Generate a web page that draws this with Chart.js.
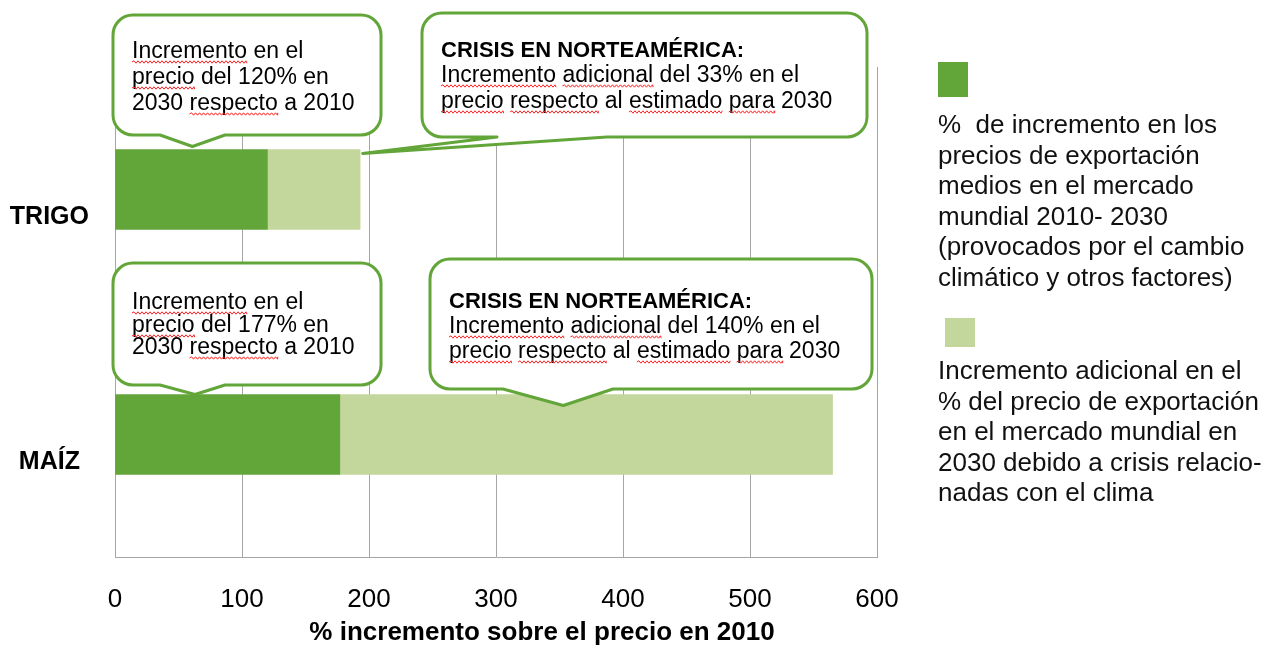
<!DOCTYPE html>
<html lang="es">
<head>
<meta charset="UTF-8">
<title>Incremento de precios 2010-2030</title>
<script src="https://cdn.jsdelivr.net/npm/chart.js"></script>
<style>
  html, body { margin: 0; padding: 0; background: #fff; }
</style>
</head>
<body>
<canvas id="chart" width="1271" height="648"></canvas>
<script>
// ---- data ----
const categories = ['TRIGO', 'MAÍZ'];
const baseIncrease = [120, 177];     // % increase 2010-2030
const crisisIncrease = [73, 388];    // extra % from the climate crisis
const xTicks = [0, 100, 200, 300, 400, 500, 600];
const axisTitle = '% incremento sobre el precio en 2010';

const seriesLines = [
  ['%  de incremento en los', 'precios de exportación', 'medios en el mercado',
   'mundial 2010- 2030', '(provocados por el cambio', 'climático y otros factores)'],
  ['Incremento adicional en el', '% del precio de exportación', 'en el mercado mundial en',
   '2030 debido a crisis relacio-', 'nadas con el clima']
];

// callout texts, one per bubble (title, lines, category index, value the pointer aims at)
const calloutTitles = ['', 'CRISIS EN NORTEAMÉRICA:', '', 'CRISIS EN NORTEAMÉRICA:'];
const calloutLines = [
  ['Incremento en el', 'precio del 120% en', '2030 respecto a 2010'],
  ['Incremento adicional del 33% en el', 'precio respecto al estimado para 2030'],
  ['Incremento en el', 'precio del 177% en', '2030 respecto a 2010'],
  ['Incremento adicional del 140% en el', 'precio respecto al estimado para 2030']
];
const calloutCategory = [0, 0, 1, 1];
const calloutTarget = [61, 195, 63, 353];
// words Word flagged with the red wavy line
const flaggedWords = ['Incremento', 'precio', 'respecto', 'adicional', 'estimado', 'para'];

// ---- styles / placement ----
const DARK = '#62a539';
const LIGHT = '#c3d69b';
const GRID = '#a6a6a6';
const FONT = '"Liberation Sans", Arial, sans-serif';

const calloutBoxes = [
  { x: 113, y: 15,  w: 268, h: 120, base: [160, 225], dy: -3, tx: 132, lines: [58, 84, 110] },
  { x: 422, y: 13,  w: 445, h: 124, base: [497, 607], dy: 4,  tx: 441, lines: [57, 82, 108] },
  { x: 113, y: 263, w: 268, h: 122, base: [160, 225], dy: 0,  tx: 132, lines: [309, 332, 354] },
  { x: 430, y: 259, w: 442, h: 130, base: [503, 613], dy: 11, tx: 449, lines: [308, 333, 358] }
];
const legendBoxes = [
  { sx: 938, sy: 62,  sw: 30, sh: 35, tx: 938, ty: 133, gap: 30.5 },
  { sx: 945, sy: 318, sw: 30, sh: 29, tx: 938, ty: 379, gap: 30.6 }
];

function bubblePath(ctx, b, tip) {
  const r = 20, x0 = b.x, y0 = b.y, x1 = b.x + b.w, y1 = b.y + b.h;
  ctx.beginPath();
  ctx.moveTo(x0 + r, y0);
  ctx.lineTo(x1 - r, y0);
  ctx.arcTo(x1, y0, x1, y0 + r, r);
  ctx.lineTo(x1, y1 - r);
  ctx.arcTo(x1, y1, x1 - r, y1, r);
  ctx.lineTo(b.base[1], y1);
  ctx.lineTo(tip.x, tip.y);
  ctx.lineTo(b.base[0], y1);
  ctx.lineTo(x0 + r, y1);
  ctx.arcTo(x0, y1, x0, y1 - r, r);
  ctx.lineTo(x0, y0 + r);
  ctx.arcTo(x0, y0, x0 + r, y0, r);
  ctx.closePath();
}

function wavy(ctx, x1, x2, y) {
  ctx.save();
  ctx.strokeStyle = '#ff2020';
  ctx.lineWidth = 1;
  ctx.beginPath();
  ctx.moveTo(x1, y);
  let up = true;
  for (let x = x1; x < x2; x += 2) {
    ctx.lineTo(Math.min(x + 2, x2), up ? y - 1.2 : y + 1.2);
    up = !up;
  }
  ctx.stroke();
  ctx.restore();
}

function textWithFlags(ctx, str, x, y) {
  ctx.fillText(str, x, y);
  let pos = 0;
  str.split(' ').forEach(word => {
    if (flaggedWords.includes(word)) {
      const x1 = x + ctx.measureText(str.slice(0, pos)).width;
      const x2 = x1 + ctx.measureText(word).width;
      wavy(ctx, x1, x2, y + 4);
    }
    pos += word.length + 1;
  });
}

const calloutPlugin = {
  id: 'callouts',
  afterDatasetsDraw(chart) {
    const ctx = chart.ctx;
    const xs = chart.scales.x;
    const meta = chart.getDatasetMeta(0);
    ctx.save();
    calloutBoxes.forEach((b, i) => {
      const bar = meta.data[calloutCategory[i]];
      const tip = {
        x: xs.getPixelForValue(calloutTarget[i]),
        y: bar.y - bar.height / 2 + b.dy
      };
      bubblePath(ctx, b, tip);
      ctx.fillStyle = '#fff';
      ctx.fill();
      ctx.lineWidth = 3;
      ctx.lineJoin = 'round';
      ctx.strokeStyle = DARK;
      ctx.stroke();

      ctx.fillStyle = '#000';
      ctx.textAlign = 'left';
      ctx.textBaseline = 'alphabetic';
      let row = 0;
      if (calloutTitles[i]) {
        ctx.font = 'bold 22px ' + FONT;
        ctx.fillText(calloutTitles[i], b.tx, b.lines[row++]);
      }
      ctx.font = '23px ' + FONT;
      calloutLines[i].forEach(line => textWithFlags(ctx, line, b.tx, b.lines[row++]));
    });
    ctx.restore();
  },
  afterDraw(chart) {
    const ctx = chart.ctx;
    ctx.save();
    // legend: swatch above a wrapped description
    chart.data.datasets.forEach((ds, i) => {
      const l = legendBoxes[i];
      ctx.fillStyle = ds.backgroundColor;
      ctx.fillRect(l.sx, l.sy, l.sw, l.sh);
      ctx.fillStyle = '#111';
      ctx.font = '26px ' + FONT;
      ctx.textAlign = 'left';
      ctx.textBaseline = 'alphabetic';
      seriesLines[i].forEach((line, k) => ctx.fillText(line, l.tx, l.ty + k * l.gap));
    });
    // x axis title sits a bit right of the plot centre in the original
    ctx.fillStyle = '#000';
    ctx.font = 'bold 26px ' + FONT;
    ctx.textAlign = 'center';
    ctx.fillText(axisTitle, 542, chart.scales.x.bottom - 8);
    ctx.restore();
  }
};

new Chart(document.getElementById('chart'), {
  type: 'bar',
  data: {
    labels: categories,
    datasets: [
      { label: seriesLines[0].join(' '), data: baseIncrease, backgroundColor: DARK, barThickness: 80, stack: 's' },
      { label: seriesLines[1].join(' '), data: crisisIncrease, backgroundColor: LIGHT, barThickness: 80, stack: 's' }
    ]
  },
  options: {
    indexAxis: 'y',
    responsive: false,
    animation: false,
    layout: { padding: { top: 67, right: 394, left: 0, bottom: 0 } },
    plugins: { legend: { display: false }, tooltip: { enabled: false } },
    scales: {
      x: {
        stacked: true,
        min: 0,
        max: 600,
        afterBuildTicks: s => { s.ticks = xTicks.map(v => ({ value: v })); },
        afterFit: s => { s.height = 91; },
        grid: { color: GRID, drawTicks: false },
        border: { display: true, color: GRID },
        ticks: { color: '#000', padding: 27, font: { family: FONT, size: 26 } },
        title: { display: false }
      },
      y: {
        stacked: true,
        afterFit: s => { s.width = 115; },
        grid: { display: false, drawTicks: false },
        border: { display: true, color: GRID },
        ticks: {
          color: '#000', padding: 26, labelOffset: 28, crossAlign: 'center',
          font: { family: FONT, size: 25, weight: 'bold' }
        }
      }
    }
  },
  plugins: [calloutPlugin]
});
</script>
</body>
</html>
